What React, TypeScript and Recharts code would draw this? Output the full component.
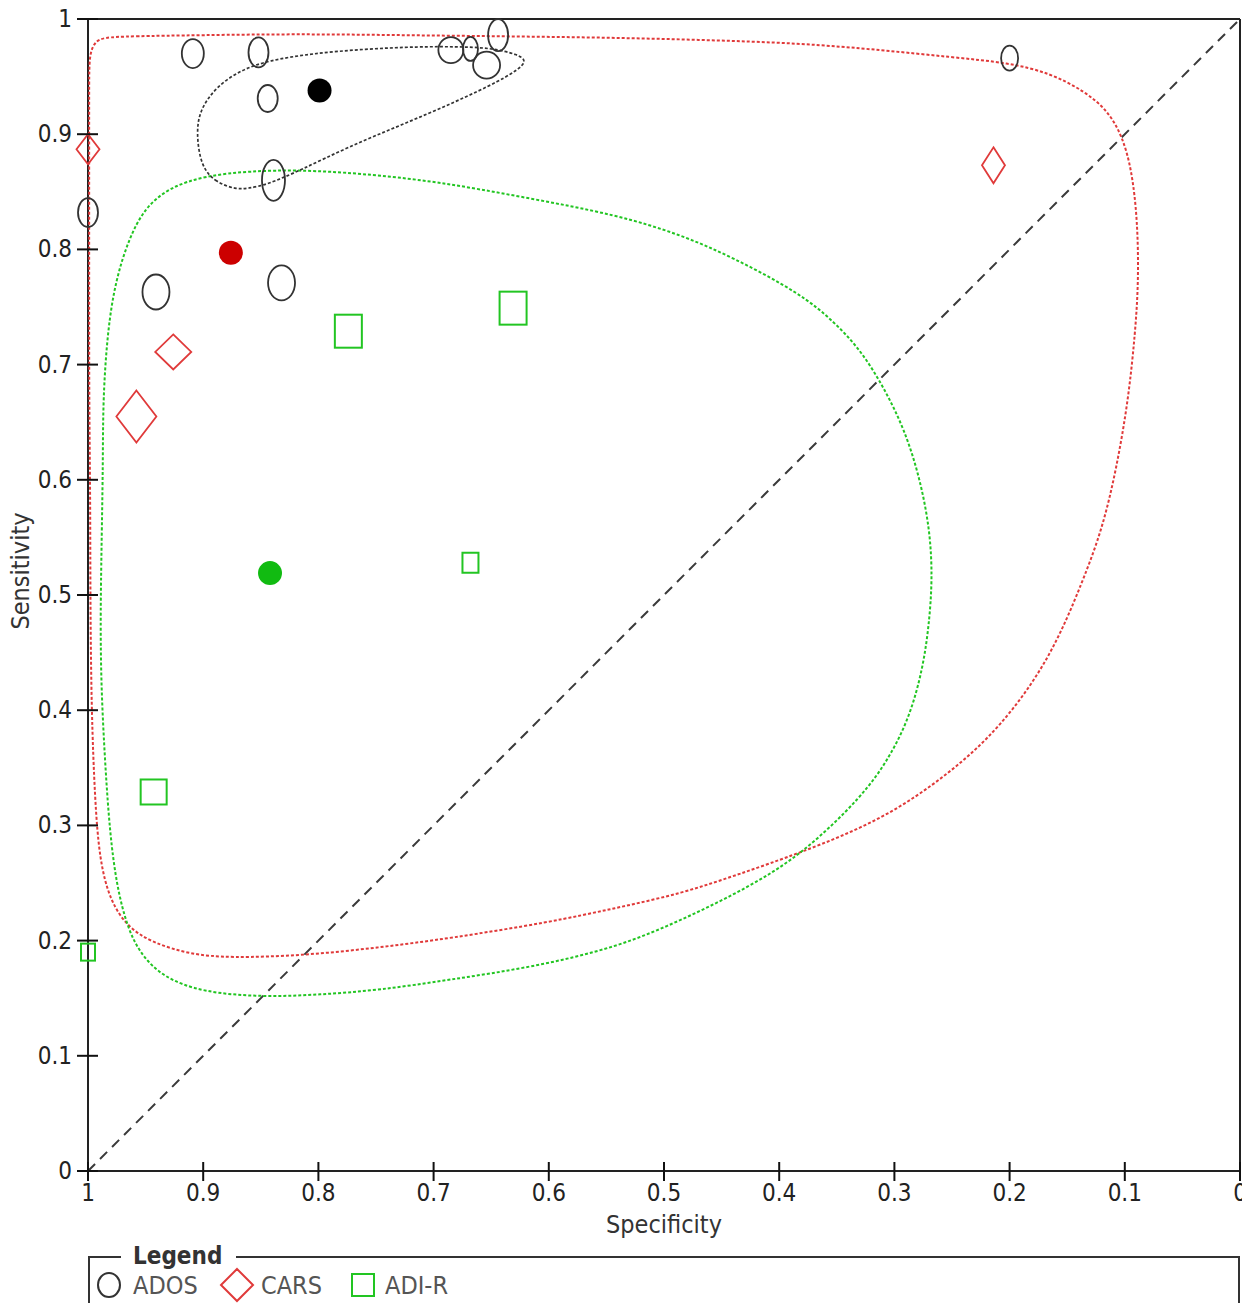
import React from 'react';
import { ScatterChart, Scatter, XAxis, YAxis, ReferenceLine } from 'recharts';

const FONT = "'DejaVu Sans Condensed', 'DejaVu Sans', sans-serif";

// Axis ticks
const TICKS = [0, 0.1, 0.2, 0.3, 0.4, 0.5, 0.6, 0.7, 0.8, 0.9, 1];
const TICK_LABELS = ['0', '0.1', '0.2', '0.3', '0.4', '0.5', '0.6', '0.7', '0.8', '0.9', '1'];

// Categories (tests)
const TESTS = ['ADOS', 'CARS', 'ADI-R'];

// ADOS studies
const ADOS_SPEC = [0.909, 0.852, 0.844, 0.839, 1.0, 0.941, 0.832, 0.685, 0.668, 0.644, 0.654, 0.2];
const ADOS_SENS = [0.97, 0.971, 0.931, 0.86, 0.832, 0.763, 0.771, 0.973, 0.974, 0.986, 0.96, 0.966];
const ADOS_W_SPEC = [22, 20, 20, 23, 20, 27, 27, 25, 15, 20, 27, 17];
const ADOS_W_SENS = [29, 30, 27, 41, 29, 35, 35, 26, 24, 32, 27, 25];

// CARS studies
const CARS_SPEC = [1.0, 0.926, 0.958, 0.214];
const CARS_SENS = [0.887, 0.711, 0.655, 0.873];
const CARS_W_SPEC = [23, 36, 40, 23];
const CARS_W_SENS = [30, 35, 52, 36];

// ADI-R studies
const ADIR_SPEC = [0.774, 0.631, 0.668, 0.943, 1.0];
const ADIR_SENS = [0.729, 0.749, 0.528, 0.329, 0.19];
const ADIR_W_SPEC = [27, 27, 16, 26, 14];
const ADIR_W_SENS = [33, 33, 20, 25, 17];

// Summary points [spec, sens]
const SUMMARY_ADOS: [number, number] = [0.799, 0.938];
const SUMMARY_CARS: [number, number] = [0.876, 0.797];
const SUMMARY_ADIR: [number, number] = [0.842, 0.519];

// Confidence region (ADOS) [spec, sens]
const ADOS_REGION: [number, number][] = [
  [0.871, 0.852], [0.889, 0.858], [0.902, 0.872], [0.906, 0.901], [0.903, 0.921], [0.889, 0.941],
  [0.867, 0.956], [0.843, 0.964], [0.806, 0.97], [0.759, 0.974], [0.713, 0.976], [0.681, 0.976],
  [0.65, 0.975], [0.626, 0.969], [0.62, 0.964], [0.624, 0.958], [0.641, 0.947], [0.681, 0.928],
  [0.728, 0.908], [0.774, 0.889], [0.815, 0.869], [0.845, 0.856], [0.861, 0.853],
];

// Prediction region (CARS) [spec, sens]
const CARS_REGION: [number, number][] = [
  [0.987, 0.984], [0.964, 0.985], [0.903, 0.986], [0.816, 0.987], [0.729, 0.986], [0.642, 0.985],
  [0.556, 0.984], [0.469, 0.982], [0.382, 0.979], [0.31, 0.973], [0.252, 0.967], [0.2, 0.962],
  [0.165, 0.953], [0.136, 0.938], [0.115, 0.921], [0.102, 0.898], [0.094, 0.869], [0.089, 0.826],
  [0.088, 0.773], [0.091, 0.727], [0.097, 0.669], [0.107, 0.611], [0.119, 0.559], [0.136, 0.513],
  [0.165, 0.444], [0.208, 0.385], [0.252, 0.345], [0.31, 0.305], [0.382, 0.276], [0.434, 0.258],
  [0.484, 0.241], [0.543, 0.228], [0.599, 0.216], [0.686, 0.202], [0.747, 0.194], [0.813, 0.187],
  [0.877, 0.185], [0.911, 0.188], [0.944, 0.198], [0.966, 0.212], [0.981, 0.235], [0.99, 0.27],
  [0.994, 0.322], [0.997, 0.4], [0.998, 0.496], [0.998, 0.582], [0.999, 0.669], [0.999, 0.756],
  [0.999, 0.843], [0.999, 0.93], [0.999, 0.958], [0.998, 0.971], [0.994, 0.98],
];

// Prediction region (ADI-R) [spec, sens]
const ADIR_REGION: [number, number][] = [
  [0.989, 0.496], [0.988, 0.556], [0.987, 0.617], [0.987, 0.669], [0.983, 0.73], [0.976, 0.773],
  [0.965, 0.808], [0.951, 0.836], [0.929, 0.854], [0.898, 0.864], [0.859, 0.868], [0.816, 0.869],
  [0.764, 0.866], [0.697, 0.859], [0.62, 0.845], [0.541, 0.83], [0.486, 0.813], [0.44, 0.793],
  [0.382, 0.762], [0.352, 0.737], [0.328, 0.711], [0.308, 0.678], [0.291, 0.643], [0.278, 0.602],
  [0.269, 0.556], [0.267, 0.513], [0.27, 0.474], [0.275, 0.438], [0.286, 0.396], [0.304, 0.359],
  [0.328, 0.325], [0.379, 0.276], [0.425, 0.247], [0.484, 0.218], [0.541, 0.194], [0.614, 0.177],
  [0.686, 0.166], [0.747, 0.157], [0.799, 0.153], [0.848, 0.151], [0.9, 0.155], [0.935, 0.168],
  [0.955, 0.189], [0.966, 0.212], [0.975, 0.247], [0.981, 0.293], [0.985, 0.351], [0.988, 0.409],
  [0.989, 0.452],
];

const toStudies = (spec: number[], sens: number[], ws: number[], wn: number[]) =>
  spec.map((s, i) => ({ spec: s, sens: sens[i], wSpec: ws[i], wSens: wn[i] }));
const toPath = (pts: [number, number][]) => pts.map(([s, n]) => ({ spec: s, sens: n }));

const adosData = toStudies(ADOS_SPEC, ADOS_SENS, ADOS_W_SPEC, ADOS_W_SENS);
const carsData = toStudies(CARS_SPEC, CARS_SENS, CARS_W_SPEC, CARS_W_SENS);
const adirData = toStudies(ADIR_SPEC, ADIR_SENS, ADIR_W_SPEC, ADIR_W_SENS);

const COLORS = { ADOS: '#333333', CARS: '#e03a3a', 'ADI-R': '#22c522' };

const Empty = () => <g />;

const EllipseShape = (p: any) => (
  <ellipse cx={p.cx} cy={p.cy} rx={p.payload.wSpec / 2} ry={p.payload.wSens / 2} fill="none" stroke="#333" strokeWidth={1.8} />
);
const DiamondShape = (p: any) => {
  const w = p.payload.wSpec / 2;
  const h = p.payload.wSens / 2;
  const pts = `${p.cx},${p.cy - h} ${p.cx + w},${p.cy} ${p.cx},${p.cy + h} ${p.cx - w},${p.cy}`;
  return <polygon points={pts} fill="none" stroke="#e03a3a" strokeWidth={1.8} />;
};
const SquareShape = (p: any) => {
  const w = p.payload.wSpec;
  const h = p.payload.wSens;
  return <rect x={p.cx - w / 2} y={p.cy - h / 2} width={w} height={h} fill="none" stroke="#22c522" strokeWidth={2} />;
};
const dot = (color: string) => (p: any) => <circle cx={p.cx} cy={p.cy} r={12} fill={color} />;

const XTick = (p: any) => {
  const i = TICKS.indexOf(p.payload.value);
  return (
    <g>
      <line x1={p.x} x2={p.x} y1={p.y - 9} y2={p.y + 10} stroke="#111" strokeWidth={2} />
      <text x={p.x} y={p.y + 30} textAnchor="middle" fontFamily={FONT} fontSize={24} fill="#222">
        {TICK_LABELS[i]}
      </text>
    </g>
  );
};
const YTick = (p: any) => {
  const i = TICKS.indexOf(p.payload.value);
  return (
    <g>
      <line x1={p.x - 11} x2={p.x + 10} y1={p.y} y2={p.y} stroke="#111" strokeWidth={2} />
      <text x={p.x - 16} y={p.y + 8} textAnchor="end" fontFamily={FONT} fontSize={24} fill="#222">
        {TICK_LABELS[i]}
      </text>
    </g>
  );
};

const XLabel = (props: any) => {
  const vb = props.viewBox || { x: 80, y: 1163, width: 1152 };
  return (
    <text x={vb.x + vb.width / 2} y={vb.y + 62} textAnchor="middle" fontFamily={FONT} fontSize={25} fill="#333">
      Specificity
    </text>
  );
};
const YLabel = () => {
  const cx = 12;
  const cy = 563;
  return (
    <text x={cx} y={cy} transform={`rotate(-90, ${cx}, ${cy})`} textAnchor="middle" dominantBaseline="central" fontFamily={FONT} fontSize={25} fill="#333">
      Sensitivity
    </text>
  );
};

const legendText: React.CSSProperties = {
  position: 'absolute',
  fontFamily: FONT,
  fontSize: 25,
  color: '#555',
  lineHeight: '28px',
  top: 14,
};

const regionLine = (color: string, w: number) => ({ stroke: color, strokeWidth: w, strokeDasharray: '3 2' });

export default function App() {
  return (
    <div style={{ position: 'relative', width: 1242, height: 1295, background: '#fff' }}>
      <style>{'html, body { overflow: hidden; } .recharts-surface { overflow: visible; }'}</style>
      <ScatterChart width={1242} height={1240} margin={{ top: 11, right: 10, left: 0, bottom: 17 }}>
        <XAxis
          type="number"
          dataKey="spec"
          domain={[0, 1]}
          reversed
          ticks={TICKS}
          interval={0}
          height={60}
          tickSize={0}
          tickMargin={0}
          tickLine={false}
          tick={<XTick />}
          axisLine={{ stroke: '#222', strokeWidth: 2 }}
          label={XLabel}
        />
        <YAxis
          type="number"
          dataKey="sens"
          domain={[0, 1]}
          ticks={TICKS}
          interval={0}
          width={80}
          tickSize={0}
          tickMargin={0}
          tickLine={false}
          tick={<YTick />}
          axisLine={{ stroke: '#222', strokeWidth: 2 }}
          label={YLabel}
        />
        <ReferenceLine y={1} stroke="#222" strokeWidth={2} />
        <ReferenceLine x={0} stroke="#222" strokeWidth={2} />
        <ReferenceLine
          segment={[{ x: 1, y: 0 }, { x: 0, y: 1 }]}
          stroke="#3a3a3a"
          strokeWidth={2}
          strokeDasharray="10 7"
        />
        <Scatter
          name="CARS region"
          data={toPath(CARS_REGION)}
          fill="none"
          line={regionLine('#e03a3a', 2)}
          lineJointType="basisClosed"
          shape={Empty}
          isAnimationActive={false}
        />
        <Scatter
          name="ADI-R region"
          data={toPath(ADIR_REGION)}
          fill="none"
          line={regionLine('#22c522', 2)}
          lineJointType="basisClosed"
          shape={Empty}
          isAnimationActive={false}
        />
        <Scatter
          name="ADOS region"
          data={toPath(ADOS_REGION)}
          fill="none"
          line={regionLine('#333', 1.7)}
          lineJointType="basisClosed"
          shape={Empty}
          isAnimationActive={false}
        />
        <Scatter name={TESTS[0]} data={adosData} shape={EllipseShape} isAnimationActive={false} />
        <Scatter name={TESTS[1]} data={carsData} shape={DiamondShape} isAnimationActive={false} />
        <Scatter name={TESTS[2]} data={adirData} shape={SquareShape} isAnimationActive={false} />
        <Scatter data={[{ spec: SUMMARY_ADOS[0], sens: SUMMARY_ADOS[1] }]} shape={dot('#000')} isAnimationActive={false} />
        <Scatter data={[{ spec: SUMMARY_CARS[0], sens: SUMMARY_CARS[1] }]} shape={dot('#cc0000')} isAnimationActive={false} />
        <Scatter data={[{ spec: SUMMARY_ADIR[0], sens: SUMMARY_ADIR[1] }]} shape={dot('#11bb11')} isAnimationActive={false} />
      </ScatterChart>
      <div
        style={{
          position: 'absolute',
          left: 80,
          top: 1248,
          width: 1152,
          height: 80,
          boxSizing: 'border-box',
          borderTop: '2px solid #333',
          borderLeft: '2px solid #333',
          borderRight: '2px solid #333',
        }}
      >
        <span
          style={{
            position: 'absolute',
            left: 31,
            top: -16,
            background: '#fff',
            padding: '0 14px 0 12px',
            fontFamily: FONT,
            fontWeight: 'bold',
            fontSize: 24,
            lineHeight: '28px',
            color: '#333',
          }}
        >
          Legend
        </span>
        <svg width={400} height={40} style={{ position: 'absolute', left: 0, top: 8 }}>
          <ellipse cx={19} cy={19} rx={11} ry={12} fill="none" stroke={COLORS.ADOS} strokeWidth={2} />
          <polygon points="147,3 163,19 147,35 131,19" fill="none" stroke={COLORS.CARS} strokeWidth={2} />
          <rect x={262} y={8} width={22} height={22} fill="none" stroke={COLORS['ADI-R']} strokeWidth={2} />
        </svg>
        <span style={{ ...legendText, left: 43 }}>{TESTS[0]}</span>
        <span style={{ ...legendText, left: 171 }}>{TESTS[1]}</span>
        <span style={{ ...legendText, left: 295 }}>{TESTS[2]}</span>
      </div>
    </div>
  );
}
